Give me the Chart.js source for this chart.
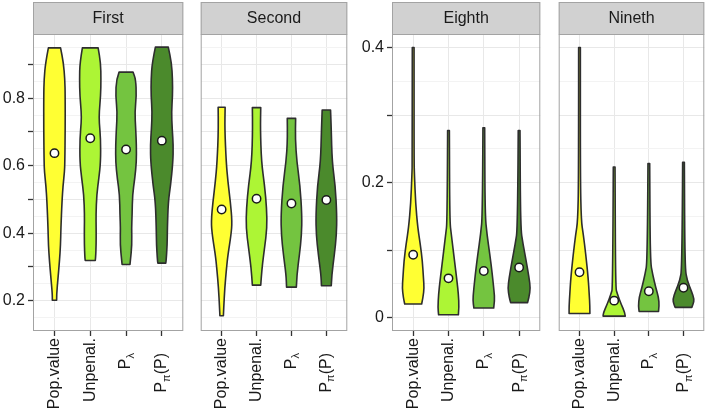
<!DOCTYPE html>
<html lang="en">
<head>
<meta charset="UTF-8">
<title>Violin panels</title>
<script src="https://cdn.jsdelivr.net/npm/chart.js"></script>
<style>
  body { margin: 0; background: #fff; }
  #wrap { position: relative; width: 711px; height: 411px; overflow: hidden; }
  #wrap canvas { position: absolute; top: 0; }
</style>
</head>
<body>
<div id="wrap"></div>

<script>
// categories (subscripts written as _{..})
const categories = ['Pop.value', 'Unpenal.', 'P_{λ}', 'P_{π}(P)'];
const panelTitles = ['First', 'Second', 'Eighth', 'Nineth'];
const fillColors = ['#ffff33', '#adf535', '#74c440', '#4b8a2c'];

// white dots (means)
const meansFirst = [0.637, 0.681, 0.648, 0.674];
const meansSecond = [0.470, 0.502, 0.488, 0.498];
const meansEighth = [0.093, 0.058, 0.069, 0.074];
const meansNineth = [0.067, 0.025, 0.039, 0.044];

// violin outlines: [value, half width in category units], one list per category
const violinFirst = [
  [[0.949,0.17],[0.905,0.25],[0.856,0.29],[0.807,0.30],[0.709,0.30],[0.611,0.29],[0.581,0.28],[0.542,0.24],[0.493,0.21],[0.415,0.18],[0.366,0.17],[0.317,0.14],[0.268,0.10],[0.219,0.06],[0.201,0.06]],
  [[0.949,0.22],[0.905,0.29],[0.856,0.30],[0.807,0.29],[0.758,0.25],[0.729,0.25],[0.680,0.29],[0.611,0.29],[0.562,0.24],[0.513,0.18],[0.454,0.16],[0.415,0.165],[0.366,0.165],[0.327,0.15],[0.319,0.14]],
  [[0.877,0.195],[0.856,0.27],[0.807,0.29],[0.758,0.245],[0.709,0.27],[0.660,0.29],[0.611,0.29],[0.562,0.245],[0.513,0.18],[0.454,0.17],[0.415,0.155],[0.366,0.165],[0.317,0.12],[0.307,0.11]],
  [[0.951,0.18],[0.905,0.27],[0.856,0.30],[0.807,0.30],[0.758,0.27],[0.709,0.29],[0.660,0.32],[0.611,0.31],[0.542,0.245],[0.493,0.18],[0.415,0.155],[0.366,0.15],[0.317,0.12],[0.311,0.11]]
];
const violinSecond = [
  [[0.773,0.10],[0.709,0.09],[0.611,0.13],[0.552,0.18],[0.493,0.25],[0.434,0.30],[0.395,0.27],[0.336,0.18],[0.297,0.14],[0.238,0.09],[0.179,0.06],[0.155,0.05]],
  [[0.772,0.12],[0.709,0.11],[0.611,0.14],[0.542,0.23],[0.473,0.29],[0.415,0.30],[0.356,0.23],[0.297,0.155],[0.246,0.12]],
  [[0.740,0.12],[0.679,0.11],[0.611,0.155],[0.542,0.245],[0.454,0.30],[0.395,0.29],[0.336,0.23],[0.277,0.155],[0.240,0.14]],
  [[0.765,0.12],[0.709,0.14],[0.611,0.165],[0.542,0.255],[0.454,0.30],[0.395,0.29],[0.336,0.23],[0.277,0.155],[0.244,0.14]]
];
const violinEighth = [
  [[0.400,0.025],[0.232,0.025],[0.212,0.035],[0.168,0.07],[0.133,0.13],[0.109,0.20],[0.084,0.26],[0.059,0.29],[0.044,0.31],[0.030,0.28],[0.020,0.24]],
  [[0.277,0.025],[0.143,0.035],[0.123,0.08],[0.084,0.17],[0.054,0.24],[0.035,0.28],[0.015,0.30],[0.004,0.28]],
  [[0.281,0.025],[0.153,0.035],[0.123,0.09],[0.094,0.17],[0.064,0.24],[0.039,0.29],[0.025,0.31],[0.014,0.28]],
  [[0.277,0.025],[0.133,0.04],[0.109,0.11],[0.084,0.20],[0.059,0.28],[0.044,0.32],[0.030,0.28],[0.022,0.24]]
];
const violinNineth = [
  [[0.400,0.025],[0.207,0.025],[0.143,0.05],[0.123,0.11],[0.094,0.18],[0.059,0.25],[0.035,0.28],[0.017,0.30],[0.006,0.30]],
  [[0.223,0.025],[0.044,0.04],[0.035,0.09],[0.020,0.20],[0.007,0.31],[0.002,0.32]],
  [[0.228,0.025],[0.084,0.04],[0.064,0.11],[0.044,0.20],[0.030,0.28],[0.017,0.30],[0.009,0.28]],
  [[0.230,0.025],[0.074,0.04],[0.054,0.11],[0.039,0.23],[0.027,0.31],[0.020,0.28],[0.015,0.24]]
];

// y axes: ticks, labelled ticks, minor grid lines
const leftRange = [0.11, 0.99];
const leftTicks = [0.2, 0.3, 0.4, 0.5, 0.6, 0.7, 0.8, 0.9];
const leftLabels = [0.2, 0.4, 0.6, 0.8];
const leftMinor = [0.15, 0.25, 0.35, 0.45, 0.55, 0.65, 0.75, 0.85, 0.95];
const rightRange = [-0.02, 0.42];
const rightTicks = [0, 0.1, 0.2, 0.3, 0.4];
const rightLabels = [0, 0.2, 0.4];
const rightMinor = [0.05, 0.15, 0.25, 0.35];

// panel boxes on the page
const panelLeft = [33, 197, 392, 555];
const panelRight = [187, 351, 544, 708];
const FONT = '"Liberation Sans", Arial, sans-serif';

const has = (arr, v) => arr.some(a => Math.abs(a - v) < 1e-9);

// draws the violins from the outline lists
const violinPlugin = {
  id: 'violin',
  beforeDatasetsDraw(chart, args, opts) {
    const { ctx, scales: { x, y } } = chart;
    opts.profiles.forEach((prof, i) => {
      const pts = prof.slice().sort((a, b) => a[0] - b[0]);
      const R = pts.map(p => [x.getPixelForValue(i + 1 + p[1]), y.getPixelForValue(p[0])]);
      const L = pts.map(p => [x.getPixelForValue(i + 1 - p[1]), y.getPixelForValue(p[0])]).reverse();
      const smooth = (P) => {
        for (let k = 1; k < P.length - 1; k++) {
          const mx = (P[k][0] + P[k + 1][0]) / 2, my = (P[k][1] + P[k + 1][1]) / 2;
          ctx.quadraticCurveTo(P[k][0], P[k][1], mx, my);
        }
        ctx.lineTo(P[P.length - 1][0], P[P.length - 1][1]);
      };
      ctx.save();
      ctx.beginPath();
      ctx.moveTo(L[L.length - 1][0], L[L.length - 1][1]);
      ctx.lineTo(R[0][0], R[0][1]);
      smooth(R);
      ctx.lineTo(L[0][0], L[0][1]);
      smooth(L);
      ctx.closePath();
      ctx.fillStyle = opts.colors[i];
      ctx.fill();
      ctx.lineWidth = 1.6;
      ctx.lineJoin = 'round';
      ctx.strokeStyle = '#2e2e2e';
      ctx.stroke();
      ctx.restore();
    });
  }
};

// panel border, strip header and x labels
const framePlugin = {
  id: 'frame',
  afterDraw(chart, args, opts) {
    const { ctx, chartArea: a, scales: { x } } = chart;
    ctx.save();
    ctx.strokeStyle = '#a3a3a3';
    ctx.lineWidth = 1;
    ctx.strokeRect(a.left + 0.5, a.top + 0.5, a.right - a.left - 1, a.bottom - a.top - 1);
    ctx.fillStyle = '#d1d1d1';
    ctx.fillRect(a.left, 2, a.right - a.left, a.top - 2);
    ctx.strokeRect(a.left + 0.5, 2.5, a.right - a.left - 1, a.top - 2);
    ctx.fillStyle = '#1a1a1a';
    ctx.font = '16px ' + FONT;
    ctx.textAlign = 'center';
    ctx.textBaseline = 'middle';
    ctx.fillText(opts.title, (a.left + a.right) / 2, (a.top + 2) / 2 + 1);

    categories.forEach((lab, i) => {
      const m = lab.match(/^(.*?)_\{(.*?)\}(.*)$/);
      const pieces = m ? [[m[1], false], [m[2], true], [m[3], false]] : [[lab, false]];
      const px = x.getPixelForValue(i + 1);
      ctx.save();
      ctx.translate(px, a.bottom + (m ? 22 : 7));
      ctx.rotate(-Math.PI / 2);
      ctx.textAlign = 'left';
      ctx.textBaseline = 'middle';
      const fontOf = sub => (sub ? '11px ' : '16px ') + FONT;
      let total = 0;
      pieces.forEach(([t, sub]) => { ctx.font = fontOf(sub); total += ctx.measureText(t).width; });
      let cx = -total;
      pieces.forEach(([t, sub]) => {
        ctx.font = fontOf(sub);
        ctx.fillText(t, cx, sub ? 5 : 0);
        cx += ctx.measureText(t).width;
      });
      ctx.restore();
    });
    ctx.restore();
  }
};

function makePanel(i, means, profiles, range, ticks, labels, minor, showAxis) {
  const axisW = showAxis ? 33 : 2;
  const cLeft = panelLeft[i] - axisW;
  const canvas = document.createElement('canvas');
  canvas.width = panelRight[i] + 2 - cLeft;
  canvas.height = 411;
  canvas.style.left = cLeft + 'px';
  document.getElementById('wrap').appendChild(canvas);

  new Chart(canvas, {
    type: 'scatter',
    data: {
      datasets: [{
        data: means.map((m, k) => ({ x: k + 1, y: m })),
        pointRadius: 4.2,
        pointBackgroundColor: '#ffffff',
        pointBorderColor: '#1a1a1a',
        pointBorderWidth: 1.5
      }]
    },
    options: {
      responsive: false,
      animation: false,
      devicePixelRatio: 1,
      events: [],
      layout: { padding: { top: 34, right: 2, bottom: 0, left: showAxis ? 0 : 2 } },
      plugins: {
        legend: { display: false },
        tooltip: { enabled: false },
        violin: { profiles: profiles, colors: fillColors },
        frame: { title: panelTitles[i] }
      },
      scales: {
        x: {
          type: 'linear',
          min: 0.4,
          max: 4.6,
          afterBuildTicks: s => { s.ticks = [1, 2, 3, 4].map(v => ({ value: v })); },
          afterFit: s => { s.height = 80; },
          ticks: { autoSkip: false, callback: () => '' },
          border: { display: false },
          grid: { color: '#e8e8e8', tickColor: '#333333', tickLength: 5, lineWidth: 1, tickWidth: 1.3 }
        },
        y: {
          min: range[0],
          max: range[1],
          afterBuildTicks: s => {
            s.ticks = ticks.concat(minor).sort((p, q) => p - q).map(v => ({ value: v }));
          },
          afterFit: s => { s.width = showAxis ? 33 : 0; },
          border: { display: false },
          ticks: {
            display: showAxis,
            autoSkip: false,
            padding: 3,
            color: '#1a1a1a',
            font: { size: 16, family: FONT },
            callback: v => (has(labels, v) ? String(v) : '')
          },
          grid: {
            drawTicks: showAxis,
            tickLength: 5,
            tickWidth: 1.3,
            color: c => (has(minor, c.tick.value) ? '#f3f3f3' : '#e8e8e8'),
            tickColor: c => (has(ticks, c.tick.value) ? '#333333' : 'rgba(0,0,0,0)')
          }
        }
      }
    },
    plugins: [violinPlugin, framePlugin]
  });
}

makePanel(0, meansFirst, violinFirst, leftRange, leftTicks, leftLabels, leftMinor, true);
makePanel(1, meansSecond, violinSecond, leftRange, leftTicks, leftLabels, leftMinor, false);
makePanel(2, meansEighth, violinEighth, rightRange, rightTicks, rightLabels, rightMinor, true);
makePanel(3, meansNineth, violinNineth, rightRange, rightTicks, rightLabels, rightMinor, false);
</script>
</body>
</html>
